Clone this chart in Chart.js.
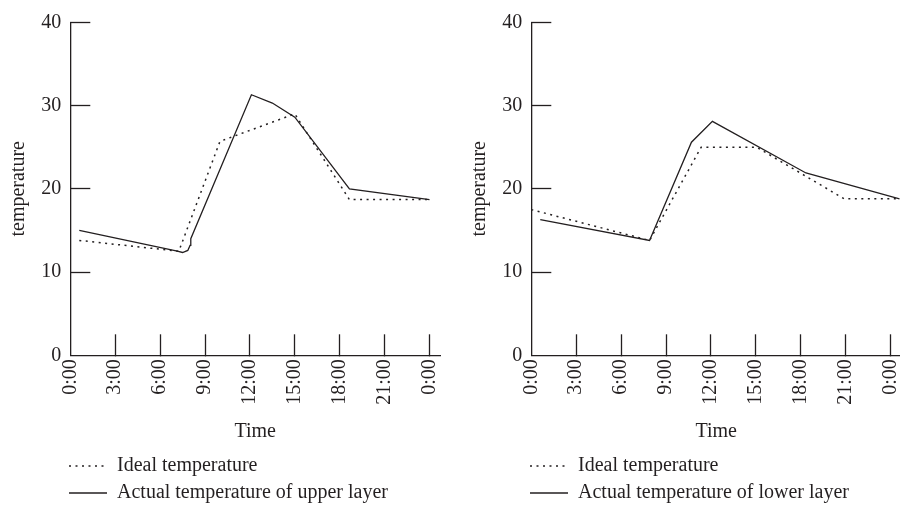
<!DOCTYPE html>
<html>
<head>
<meta charset="utf-8">
<script src="https://cdn.jsdelivr.net/npm/chart.js@4/dist/chart.umd.min.js"></script>
<style>
html, body { margin:0; padding:0; background:#ffffff; overflow:hidden; width:900px; height:510px; }
canvas { position:absolute; top:0; }
#upper { left:0; }
#lower { left:461px; }
</style>
</head>
<body>
<canvas id="upper" width="461" height="513"></canvas>
<canvas id="lower" width="461" height="513"></canvas>
<script>
// ---- data ----
const xTickValues = [0, 3, 6, 9, 12, 15, 18, 21, 24];
const xTickLabels = ['0:00', '3:00', '6:00', '9:00', '12:00', '15:00', '18:00', '21:00', '0:00'];
const yTickValues = [0, 10, 20, 30, 40];

const upperIdealHours  = [0.6, 7.25, 10.0, 15.0, 18.65, 24];
const upperIdealTemps  = [13.8, 12.5, 25.7, 29.0, 18.7, 18.7];
const upperActualHours = [0.6, 7.15, 7.5, 7.85, 8.0, 8.05, 12.1, 13.5, 15.0, 18.65, 24];
const upperActualTemps = [15.0, 12.5, 12.35, 12.6, 13.2, 14.0, 31.3, 30.3, 28.6, 20.0, 18.7];

const lowerIdealHours  = [0, 7.9, 11.35, 15.05, 20.9, 24.6];
const lowerIdealTemps  = [17.5, 13.8, 25.0, 25.0, 18.8, 18.8];
const lowerActualHours = [0.6, 7.9, 10.7, 12.1, 18.35, 24.6];
const lowerActualTemps = [16.3, 13.8, 25.6, 28.1, 21.9, 18.8];

// ---- styling ----
const INK = '#231f20';
const NONE = 'rgba(0,0,0,0)';
const FONT = { family: "'Liberation Serif', 'Times New Roman', serif", size: 20 };

function pts(hours, temps) {
  return hours.map((h, i) => ({ x: h, y: temps[i] }));
}

function idealSet(hours, temps) {
  return {
    label: 'Ideal temperature',
    data: pts(hours, temps),
    borderColor: INK, backgroundColor: NONE,
    borderWidth: 1.5, borderDash: [2, 4.5],
    pointRadius: 0, tension: 0, fill: false
  };
}
function actualSet(label, hours, temps) {
  return {
    label: label,
    data: pts(hours, temps),
    borderColor: INK, backgroundColor: NONE,
    borderWidth: 1.3,
    pointRadius: 0, tension: 0, fill: false
  };
}

// shifts the legend block to the right so it starts under the y axis, as in the reference
const legendShift = {
  id: 'legendShift',
  afterLayout(chart, args, opts) {
    const l = chart.legend;
    if (l) { l.left += opts.dx; l.right += opts.dx; }
  }
};

// inward tick marks, none at the origin
const tickColorAt = ctx => (ctx.tick && ctx.tick.value === 0) ? NONE : INK;

function makeChart(id, datasets) {
  return new Chart(document.getElementById(id), {
    type: 'line',
    data: { datasets: datasets },
    plugins: [legendShift],
    options: {
      responsive: false,
      animation: false,
      events: [],
      layout: { padding: { left: 0, right: 21, top: 22.3, bottom: 0 } },
      plugins: {
        legendShift: { dx: 62 },
        legend: {
          position: 'bottom',
          align: 'start',
          labels: {
            usePointStyle: true, pointStyle: 'line', pointStyleWidth: 38,
            padding: 7, font: FONT, color: INK,
            generateLabels: (chart) => {
              const items = Chart.defaults.plugins.legend.labels.generateLabels(chart);
              items.forEach(it => {
                const ds = chart.data.datasets[it.datasetIndex];
                it.lineDash = ds.borderDash || [];
                it.lineWidth = ds.borderWidth;
                it.strokeStyle = ds.borderColor;
                it.fillStyle = NONE;
                it.pointStyle = 'line';
              });
              return items;
            }
          }
        },
        tooltip: { enabled: false }
      },
      scales: {
        x: {
          type: 'linear', min: 0, max: 24.7,
          afterBuildTicks: s => { s.ticks = xTickValues.map(v => ({ value: v })); },
          afterFit: s => { s.height = 93.7; s.paddingLeft = 0; s.paddingRight = 0; },
          ticks: {
            autoSkip: false, minRotation: 90, maxRotation: 90, padding: 25,
            font: FONT, color: INK,
            callback: (v, i) => xTickLabels[i]
          },
          grid: { drawOnChartArea: false, drawTicks: true, tickLength: -21, tickWidth: 1.3, tickColor: tickColorAt },
          border: { display: true, color: INK, width: 1.3 },
          title: { display: true, text: 'Time', font: FONT, color: INK, padding: { top: 0, bottom: 5 } }
        },
        y: {
          type: 'linear', min: 0, max: 40,
          afterBuildTicks: s => { s.ticks = yTickValues.map(v => ({ value: v })); },
          afterFit: s => { s.width = 70.3; s.paddingTop = 0; s.paddingBottom = 0; },
          ticks: { autoSkip: false, padding: 29, font: FONT, color: INK },
          grid: { drawOnChartArea: false, drawTicks: true, tickLength: -20, tickWidth: 1.3, tickColor: tickColorAt },
          border: { display: true, color: INK, width: 1.3 },
          title: { display: true, text: 'temperature', font: FONT, color: INK, padding: { top: 7, bottom: 0 } }
        }
      }
    }
  });
}

makeChart('upper', [
  idealSet(upperIdealHours, upperIdealTemps),
  actualSet('Actual temperature of upper layer', upperActualHours, upperActualTemps)
]);
makeChart('lower', [
  idealSet(lowerIdealHours, lowerIdealTemps),
  actualSet('Actual temperature of lower layer', lowerActualHours, lowerActualTemps)
]);
</script>
</body>
</html>
